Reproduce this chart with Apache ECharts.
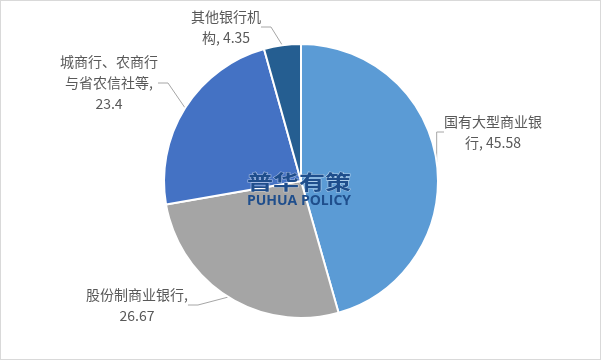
<!DOCTYPE html>
<html>
<head>
<meta charset="utf-8">
<script src="https://cdn.jsdelivr.net/npm/echarts@6/dist/echarts.min.js"></script>
<style>
  html, body { margin: 0; padding: 0; background: #fff; }
  #chart { width: 599px; height: 358px; border: 1px solid #d9d9d9; }
</style>
</head>
<body>
<div id="chart"></div>
<script>
// Bank asset share by institution type (%)
const categories = ['国有大型商业银行', '股份制商业银行', '城商行、农商行与省农信社等', '其他银行机构'];
const values = [45.58, 26.67, 23.4, 4.35];
const colors = ['#5B9BD5', '#A5A5A5', '#4472C4', '#255E91'];
// label templates with wrapped lines; {c} is filled with the slice value
const labelTemplates = [
  '国有大型商业银\n行, {c}',
  '股份制商业银行,\n{c}',
  '城商行、农商行\n与省农信社等,\n{c}',
  '其他银行机\n构, {c}'
];
// label anchor points (centre of each label block)
const labelAnchors = [[492, 131], [136, 304], [108, 82], [225, 26]];

const chart = echarts.init(document.getElementById('chart'));
const fontFamily = '"Noto Sans CJK SC", "Microsoft YaHei", sans-serif';

chart.setOption({
  backgroundColor: '#fff',
  animation: false,
  series: [{
    type: 'pie',
    center: [300, 180],
    radius: [0, 137],
    startAngle: 90,
    clockwise: true,
    itemStyle: { borderColor: '#fff', borderWidth: 2 },
    data: categories.map((name, i) => ({
      name,
      value: values[i],
      itemStyle: { color: colors[i] },
      label: { formatter: labelTemplates[i] }
    })),
    label: {
      show: true,
      position: 'outside',
      color: '#595959',
      fontSize: 14,
      lineHeight: 21,
      fontFamily,
      align: 'center'
    },
    labelLine: {
      show: true,
      length: 10,
      length2: 10,
      lineStyle: { color: '#A6A6A6', width: 1 }
    },
    labelLayout: function (params) {
      const p = labelAnchors[params.dataIndex];
      return { x: p[0], y: p[1], align: 'center', verticalAlign: 'middle' };
    }
  }],
  graphic: [
    {
      type: 'text',
      x: 298, y: 181,
      scaleX: 1.3,
      z: 100,
      style: {
        text: '普华有策',
        font: 'bold 20px "Noto Sans CJK SC", sans-serif',
        fill: '#1F4E8C',
        align: 'center',
        verticalAlign: 'middle',
        stroke: 'rgba(255,255,255,0.5)',
        lineWidth: 1
      }
    },
    {
      type: 'text',
      x: 298, y: 200,
      z: 100,
      style: {
        text: 'PUHUA POLICY',
        font: 'bold 14px "Open Sans", "DejaVu Sans", sans-serif',
        fill: '#1F4E8C',
        align: 'center',
        verticalAlign: 'middle'
      }
    }
  ]
});
</script>
</body>
</html>
